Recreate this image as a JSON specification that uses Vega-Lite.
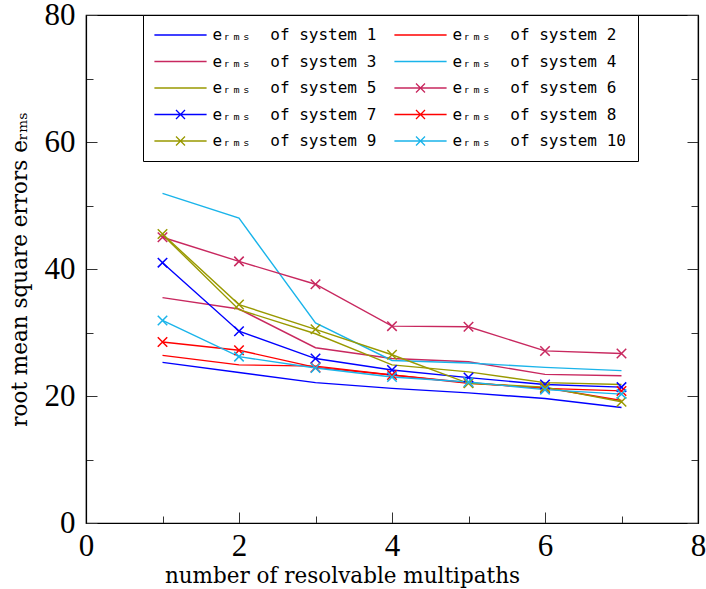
{
  "$schema": "https://vega.github.io/schema/vega-lite/v6.json",
  "width": 612,
  "height": 508,
  "autosize": {"type": "none"},
  "padding": {"left": 86, "top": 15, "right": 8, "bottom": 66},
  "background": "white",
  "config": {
    "view": {"stroke": "black", "strokeWidth": 1.2},
    "axis": {"grid": false, "domainColor": "black", "domainWidth": 1.2, "tickColor": "#333", "tickWidth": 1, "labelFont": "Liberation Serif", "labelFontSize": 31, "labelColor": "black", "titleFont": "DejaVu Serif", "titleFontWeight": "normal", "titleFontSize": 21.5, "titleColor": "black"}
  },
  "data": {"values": [
    {"n": 1, "e": 25.3, "system": "system 1"}, {"n": 2, "e": 23.7, "system": "system 1"}, {"n": 3, "e": 22.1, "system": "system 1"}, {"n": 4, "e": 21.2, "system": "system 1"}, {"n": 5, "e": 20.5, "system": "system 1"}, {"n": 6, "e": 19.6, "system": "system 1"}, {"n": 7, "e": 18.2, "system": "system 1"},
    {"n": 1, "e": 26.4, "system": "system 2"}, {"n": 2, "e": 24.9, "system": "system 2"}, {"n": 3, "e": 24.7, "system": "system 2"}, {"n": 4, "e": 23.3, "system": "system 2"}, {"n": 5, "e": 22.0, "system": "system 2"}, {"n": 6, "e": 21.3, "system": "system 2"}, {"n": 7, "e": 19.3, "system": "system 2"},
    {"n": 1, "e": 35.5, "system": "system 3"}, {"n": 2, "e": 33.7, "system": "system 3"}, {"n": 3, "e": 27.6, "system": "system 3"}, {"n": 4, "e": 25.9, "system": "system 3"}, {"n": 5, "e": 25.4, "system": "system 3"}, {"n": 6, "e": 23.4, "system": "system 3"}, {"n": 7, "e": 23.2, "system": "system 3"},
    {"n": 1, "e": 51.9, "system": "system 4"}, {"n": 2, "e": 48.0, "system": "system 4"}, {"n": 3, "e": 31.5, "system": "system 4"}, {"n": 4, "e": 25.6, "system": "system 4"}, {"n": 5, "e": 25.2, "system": "system 4"}, {"n": 6, "e": 24.5, "system": "system 4"}, {"n": 7, "e": 24.0, "system": "system 4"},
    {"n": 1, "e": 45.4, "system": "system 5"}, {"n": 2, "e": 33.6, "system": "system 5"}, {"n": 3, "e": 29.8, "system": "system 5"}, {"n": 4, "e": 24.9, "system": "system 5"}, {"n": 5, "e": 23.8, "system": "system 5"}, {"n": 6, "e": 22.1, "system": "system 5"}, {"n": 7, "e": 21.8, "system": "system 5"},
    {"n": 1, "e": 45.0, "system": "system 6"}, {"n": 2, "e": 41.2, "system": "system 6"}, {"n": 3, "e": 37.6, "system": "system 6"}, {"n": 4, "e": 31.0, "system": "system 6"}, {"n": 5, "e": 30.9, "system": "system 6"}, {"n": 6, "e": 27.1, "system": "system 6"}, {"n": 7, "e": 26.7, "system": "system 6"},
    {"n": 1, "e": 41.0, "system": "system 7"}, {"n": 2, "e": 30.2, "system": "system 7"}, {"n": 3, "e": 25.9, "system": "system 7"}, {"n": 4, "e": 24.1, "system": "system 7"}, {"n": 5, "e": 22.9, "system": "system 7"}, {"n": 6, "e": 21.8, "system": "system 7"}, {"n": 7, "e": 21.4, "system": "system 7"},
    {"n": 1, "e": 28.5, "system": "system 8"}, {"n": 2, "e": 27.2, "system": "system 8"}, {"n": 3, "e": 24.5, "system": "system 8"}, {"n": 4, "e": 23.3, "system": "system 8"}, {"n": 5, "e": 22.1, "system": "system 8"}, {"n": 6, "e": 21.2, "system": "system 8"}, {"n": 7, "e": 20.8, "system": "system 8"},
    {"n": 1, "e": 45.5, "system": "system 9"}, {"n": 2, "e": 34.4, "system": "system 9"}, {"n": 3, "e": 30.5, "system": "system 9"}, {"n": 4, "e": 26.5, "system": "system 9"}, {"n": 5, "e": 22.0, "system": "system 9"}, {"n": 6, "e": 21.4, "system": "system 9"}, {"n": 7, "e": 19.1, "system": "system 9"},
    {"n": 1, "e": 31.9, "system": "system 10"}, {"n": 2, "e": 26.2, "system": "system 10"}, {"n": 3, "e": 24.4, "system": "system 10"}, {"n": 4, "e": 23.0, "system": "system 10"}, {"n": 5, "e": 22.2, "system": "system 10"}, {"n": 6, "e": 21.0, "system": "system 10"}, {"n": 7, "e": 20.3, "system": "system 10"}
  ]},
  "resolve": {"axis": {"x": "independent", "y": "independent"}},
  "layer": [
    {
      "mark": {"type": "line", "strokeWidth": 1.4},
      "encoding": {
        "x": {"field": "n", "type": "quantitative", "scale": {"domain": [0, 8], "nice": false, "zero": false},
              "axis": {"orient": "bottom", "values": [0, 1, 2, 3, 4, 5, 6, 7, 8], "tickSize": {"condition": {"test": "datum.value % 2 == 0", "value": -11}, "value": -7},
                       "labelExpr": "datum.value % 2 == 0 ? datum.label : ''", "labelPadding": 19, "labelFlush": false,
                       "title": "number of resolvable multipaths", "titleX": 256, "titleY": 42, "titleAnchor": null}},
        "y": {"field": "e", "type": "quantitative", "scale": {"domain": [0, 80], "nice": false, "zero": false},
              "axis": {"orient": "left", "values": [0, 10, 20, 30, 40, 50, 60, 70, 80], "tickSize": {"condition": {"test": "datum.value % 20 == 0", "value": -11}, "value": -7},
                       "labelExpr": "datum.value % 20 == 0 ? datum.label : ''", "labelPadding": 22, "labelFlush": false,
                       "title": "root mean square errors eᵣₘₛ", "titleX": -66, "titleY": 254, "titleBaseline": "middle", "titleAngle": -90}},
        "color": {"field": "system", "type": "nominal",
                  "scale": {"domain": ["system 1", "system 2", "system 3", "system 4", "system 5", "system 6", "system 7", "system 8", "system 9", "system 10"],
                            "range": ["#0000ff", "#ff0000", "#c8285f", "#1ab4ea", "#999900", "#c8285f", "#0000ff", "#ff0000", "#999900", "#1ab4ea"]},
                  "legend": {"orient": "none", "legendX": 57, "legendY": 0, "columns": 2, "direction": "horizontal", "title": null,
                             "strokeColor": "black", "fillColor": "white", "padding": 12,
                             "labelFont": "DejaVu Sans Mono", "labelFontSize": 16, "labelColor": "black", "labelLimit": 400,
                             "symbolSize": 81, "symbolStrokeWidth": 1.3, "symbolOffset": 17.5, "labelOffset": 24,
                             "rowPadding": 10.5, "columnPadding": 14,
                             "labelExpr": "'eᵣₘₛ\u00a0 of ' + datum.label"}}
      }
    },
    {
      "transform": [{"filter": {"field": "system", "oneOf": ["system 6", "system 7", "system 8", "system 9", "system 10"]}}],
      "mark": {"type": "point", "shape": "M-1,-1L1,1M-1,1L1,-1", "size": 90, "filled": false, "strokeWidth": 1.5, "opacity": 1},
      "encoding": {
        "x": {"field": "n", "type": "quantitative", "axis": {"orient": "top", "values": [0, 1, 2, 3, 4, 5, 6, 7, 8], "tickSize": {"condition": {"test": "datum.value % 2 == 0", "value": -11}, "value": -7}, "labels": false, "title": null}},
        "y": {"field": "e", "type": "quantitative", "axis": {"orient": "right", "values": [0, 10, 20, 30, 40, 50, 60, 70, 80], "tickSize": {"condition": {"test": "datum.value % 20 == 0", "value": -11}, "value": -7}, "labels": false, "title": null}},
        "color": {"field": "system", "type": "nominal"}
      }
    },
    {
      "transform": [{"filter": "false"}],
      "mark": {"type": "point", "filled": false, "strokeWidth": 1.3},
      "encoding": {
        "color": {"field": "system", "type": "nominal"},
        "shape": {"field": "system", "type": "nominal",
                  "scale": {"domain": ["system 1", "system 2", "system 3", "system 4", "system 5", "system 6", "system 7", "system 8", "system 9", "system 10"],
                            "range": ["M-5.8,0L5.8,0", "M-5.8,0L5.8,0", "M-5.8,0L5.8,0", "M-5.8,0L5.8,0", "M-5.8,0L5.8,0",
                                      "M-5.8,0L5.8,0M-1,-1L1,1M-1,1L1,-1", "M-5.8,0L5.8,0M-1,-1L1,1M-1,1L1,-1", "M-5.8,0L5.8,0M-1,-1L1,1M-1,1L1,-1", "M-5.8,0L5.8,0M-1,-1L1,1M-1,1L1,-1", "M-5.8,0L5.8,0M-1,-1L1,1M-1,1L1,-1"]},
                  "legend": {"orient": "none", "legendX": 57, "legendY": 0, "columns": 2, "direction": "horizontal", "title": null,
                             "strokeColor": "black", "fillColor": "white", "padding": 12,
                             "labelFont": "DejaVu Sans Mono", "labelFontSize": 16, "labelColor": "black", "labelLimit": 400,
                             "symbolSize": 81, "symbolStrokeWidth": 1.3, "symbolOffset": 17.5, "labelOffset": 24,
                             "rowPadding": 10.5, "columnPadding": 14,
                             "labelExpr": "'eᵣₘₛ\u00a0 of ' + datum.label"}}
      }
    }
  ]
}
